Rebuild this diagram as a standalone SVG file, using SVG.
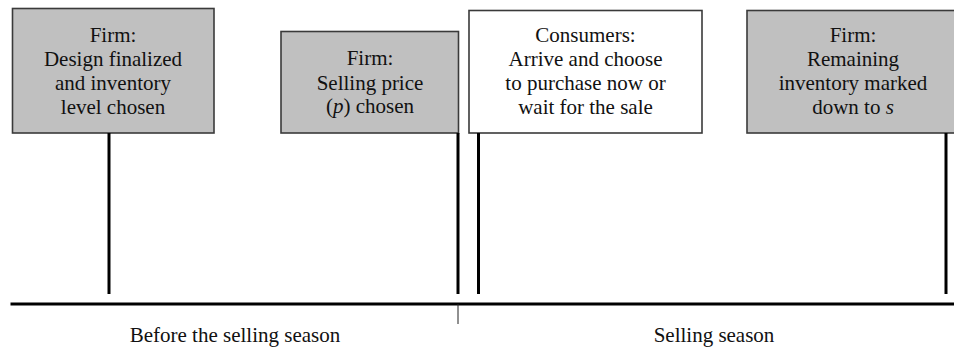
<svg xmlns="http://www.w3.org/2000/svg" width="954" height="351" viewBox="0 0 954 351">
  <style>
    text { font-family: "Liberation Serif", "Times New Roman", serif; font-size: 21px; fill: #111; text-anchor: middle; }
    .box { stroke: #3a3a3a; stroke-width: 1.6; }
    .firm { fill: #c0c0c0; }
    .consumer { fill: #ffffff; }
    .stem { stroke: #000; stroke-width: 3; }
    .axis { stroke: #000; stroke-width: 3; }
    .divider { stroke: #222; stroke-width: 1; }
    .it { font-style: italic; }
  </style>

  <!-- Event 1: design and inventory -->
  <g id="node-design">
    <rect class="box firm" x="12.5" y="8.5" width="201.5" height="124.5"/>
    <text x="113" y="42">Firm:</text>
    <text x="113" y="66">Design finalized</text>
    <text x="113" y="90">and inventory</text>
    <text x="113" y="114">level chosen</text>
  </g>

  <!-- Event 2: selling price -->
  <g id="node-price">
    <rect class="box firm" x="281" y="31.5" width="177.5" height="101.5"/>
    <text x="370" y="65">Firm:</text>
    <text x="370" y="90">Selling price</text>
    <text x="370" y="113">(<tspan class="it">p</tspan>) chosen</text>
  </g>

  <!-- Event 3: consumer arrivals -->
  <g id="node-consumers">
    <rect class="box consumer" x="469" y="10.5" width="233" height="122.5"/>
    <text x="585.5" y="42">Consumers:</text>
    <text x="585.5" y="66">Arrive and choose</text>
    <text x="585.5" y="90">to purchase now or</text>
    <text x="585.5" y="114">wait for the sale</text>
  </g>

  <!-- Event 4: markdown -->
  <g id="node-markdown">
    <rect class="box firm" x="747" y="10.5" width="215" height="122.5"/>
    <text x="853" y="42">Firm:</text>
    <text x="853" y="66">Remaining</text>
    <text x="853" y="90">inventory marked</text>
    <text x="853" y="114">down to <tspan class="it">s</tspan></text>
  </g>

  <!-- Timeline, stems and season divider -->
  <g id="connectors">
    <line class="stem" x1="109" y1="133" x2="109" y2="294"/>
    <line class="stem" x1="458" y1="133" x2="458" y2="294"/>
    <line class="stem" x1="478.5" y1="133" x2="478.5" y2="294"/>
    <line class="stem" x1="946" y1="133" x2="946" y2="294"/>
    <line class="axis" x1="10.5" y1="304" x2="954" y2="304"/>
    <line class="divider" x1="458" y1="304" x2="458" y2="324"/>
  </g>

  <g id="labels">
    <text x="235" y="342">Before the selling season</text>
    <text x="714" y="342">Selling season</text>
  </g>
</svg>
